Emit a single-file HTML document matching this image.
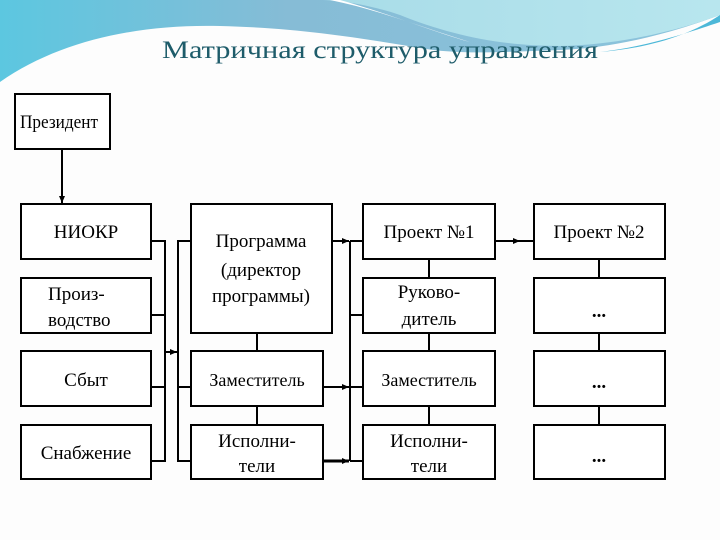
<!DOCTYPE html>
<html><head><meta charset="utf-8"><style>
html,body{margin:0;padding:0;width:720px;height:540px;overflow:hidden;background:#fdfdfd}
svg{display:block}
text{font-family:"Liberation Serif",serif;fill:#000}
</style></head><body>
<svg width="720" height="540" viewBox="0 0 720 540">
<defs>
<linearGradient id="g1" x1="0" y1="0" x2="1" y2="0">
<stop offset="0" stop-color="#5cc7e0"/><stop offset="0.4" stop-color="#86bcd6"/><stop offset="1" stop-color="#8cc4dc"/>
</linearGradient>
<linearGradient id="g2" x1="0" y1="0" x2="1" y2="0">
<stop offset="0" stop-color="#a8dce8"/><stop offset="1" stop-color="#b8e6ee"/>
</linearGradient>
<marker id="a" markerWidth="8" markerHeight="8" refX="7" refY="4" orient="auto" markerUnits="userSpaceOnUse">
<path d="M0,1 L7,4 L0,7 Z" fill="#000"/></marker>
</defs>
<path d="M0,0 H720 V15 C680,30 620,48 560,50 C500,52 460,55 420,48 C360,38 300,28 220,26 C140,24 60,40 0,82 Z" fill="url(#g1)"/>
<path d="M320,0 H720 V15 C680,30 620,45 560,46 C500,46 450,35 400,15 C370,5 340,0 320,0 Z" fill="url(#g2)"/>
<path d="M330,0 C380,10 430,30 470,42 C440,34 390,14 340,0 Z" fill="#fff"/>
<path d="M720,15 C690,35 650,48 600,52 C650,46 690,32 720,22 Z" fill="#4db8d8"/>
<text x="162" y="58" textLength="436" lengthAdjust="spacingAndGlyphs" style="font-size:25px;fill:#1e5c6a">Матричная структура управления</text>

<g fill="#fff" stroke="#000" stroke-width="2">
<rect x="15" y="94" width="95" height="55"/>
<rect x="21" y="204" width="130" height="55"/>
<rect x="21" y="278" width="130" height="55"/>
<rect x="21" y="351" width="130" height="55"/>
<rect x="21" y="425" width="130" height="54"/>
<rect x="191" y="204" width="141" height="129"/>
<rect x="191" y="351" width="132" height="55"/>
<rect x="191" y="425" width="132" height="54"/>
<rect x="363" y="204" width="132" height="55"/>
<rect x="363" y="278" width="132" height="55"/>
<rect x="363" y="351" width="132" height="55"/>
<rect x="363" y="425" width="132" height="54"/>
<rect x="534" y="204" width="131" height="55"/>
<rect x="534" y="278" width="131" height="55"/>
<rect x="534" y="351" width="131" height="55"/>
<rect x="534" y="425" width="131" height="54"/>
</g>
<g stroke="#000" stroke-width="2" fill="none">
<line x1="62" y1="149" x2="62" y2="203" marker-end="url(#a)"/>
<polyline points="151,241 165,241 165,461 151,461"/>
<line x1="151" y1="315" x2="165" y2="315"/>
<line x1="151" y1="387" x2="165" y2="387"/>
<line x1="165" y1="352" x2="177" y2="352" marker-end="url(#a)"/>
<polyline points="191,241 178,241 178,461 191,461"/>
<line x1="178" y1="387" x2="191" y2="387"/>
<line x1="257" y1="333" x2="257" y2="351"/>
<line x1="257" y1="406" x2="257" y2="425"/>
<line x1="332" y1="241" x2="349" y2="241" marker-end="url(#a)"/>
<line x1="323" y1="387" x2="349" y2="387" marker-end="url(#a)"/>
<line x1="323" y1="461" x2="349" y2="461" marker-end="url(#a)" stroke-width="3"/>
<line x1="350" y1="241" x2="350" y2="461"/>
<line x1="350" y1="241" x2="363" y2="241"/>
<line x1="350" y1="315" x2="363" y2="315"/>
<line x1="350" y1="387" x2="363" y2="387"/>
<line x1="350" y1="461" x2="363" y2="461"/>
<line x1="429" y1="259" x2="429" y2="278"/>
<line x1="429" y1="333" x2="429" y2="351"/>
<line x1="429" y1="406" x2="429" y2="425"/>
<line x1="495" y1="241" x2="520" y2="241" marker-end="url(#a)"/>
<line x1="518" y1="241" x2="534" y2="241"/>
<line x1="599" y1="259" x2="599" y2="278"/>
<line x1="599" y1="333" x2="599" y2="351"/>
<line x1="599" y1="406" x2="599" y2="425"/>
</g>
<g style="font-size:19px" text-anchor="middle">
<text x="20" y="128" text-anchor="start" textLength="78" lengthAdjust="spacingAndGlyphs">Президент</text>
<text x="86" y="238">НИОКР</text>
<text x="48" y="300" text-anchor="start">Произ-</text>
<text x="48" y="326" text-anchor="start">водство</text>
<text x="86" y="386">Сбыт</text>
<text x="86" y="459">Снабжение</text>
<text x="261" y="247">Программа</text>
<text x="261" y="276">(директор</text>
<text x="261" y="302">программы)</text>
<text x="257" y="386" style="font-size:18px">Заместитель</text>
<text x="257" y="447">Исполни-</text>
<text x="257" y="472">тели</text>
<text x="429" y="238">Проект №1</text>
<text x="429" y="298">Руково-</text>
<text x="429" y="325">дитель</text>
<text x="429" y="386" style="font-size:18px">Заместитель</text>
<text x="429" y="447">Исполни-</text>
<text x="429" y="472">тели</text>
<text x="599" y="238">Проект №2</text>
<text x="599" y="317" style="font-weight:bold">...</text>
<text x="599" y="388" style="font-weight:bold">...</text>
<text x="599" y="462" style="font-weight:bold">...</text>
</g>
</svg>
</body></html>
